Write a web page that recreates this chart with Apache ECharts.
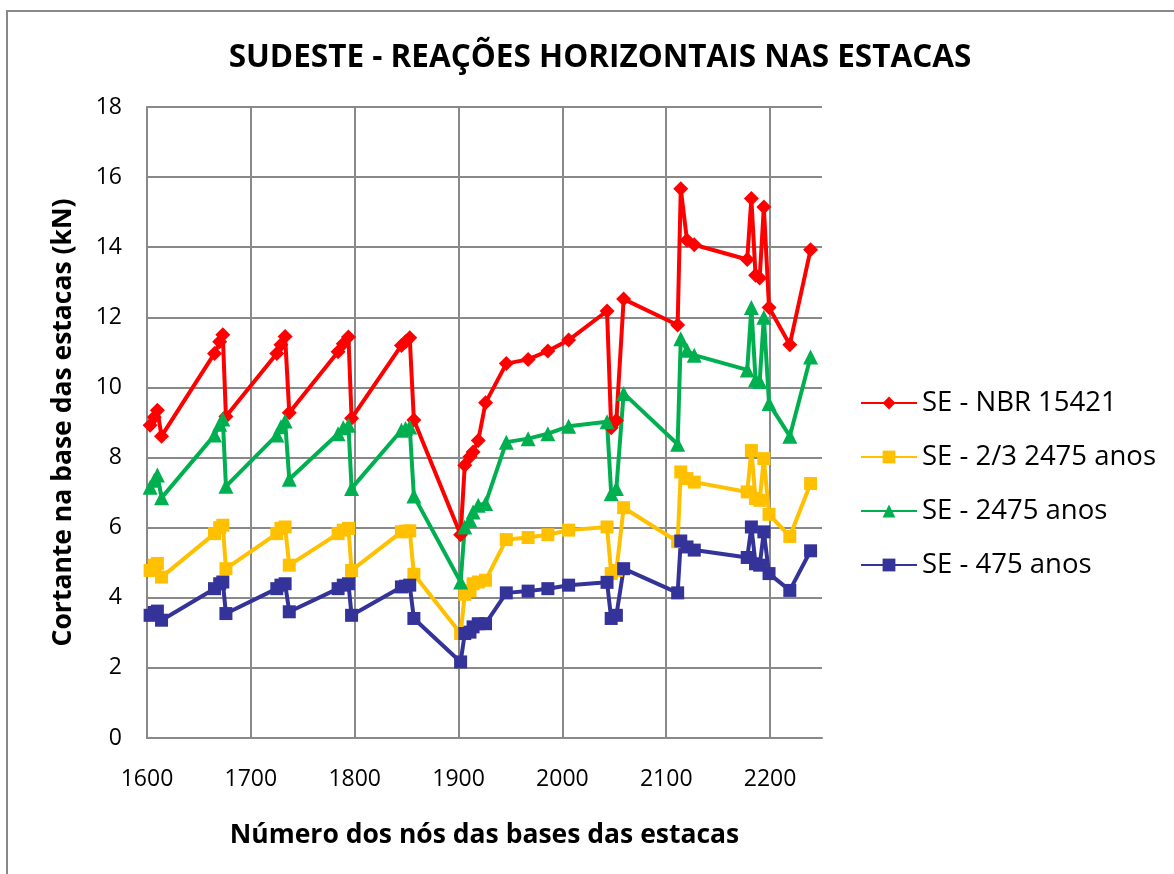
<!DOCTYPE html>
<html>
<head>
<meta charset="utf-8">
<script src="https://cdn.jsdelivr.net/npm/echarts@6/dist/echarts.min.js"></script>
<style>
  html, body { margin: 0; padding: 0; background: #fff; }
  #chart { width: 1174px; height: 874px; }
</style>
</head>
<body>
<div id="chart"></div>
<script>
  // números dos nós (eixo x)
  var nodes = [1603, 1607, 1610, 1614, 1665, 1670, 1673, 1676, 1725, 1729, 1733, 1737,
    1784, 1789, 1794, 1797, 1845, 1849, 1853, 1857, 1902, 1906, 1911, 1914, 1919, 1926,
    1946, 1967, 1986, 2006, 2043, 2047, 2052, 2059, 2111, 2114, 2120, 2127,
    2178, 2182, 2186, 2190, 2194, 2199, 2219, 2239];

  var nbr15421 = [8.92, 9.15, 9.35, 8.61, 10.97, 11.3, 11.5, 9.17, 10.97, 11.22, 11.45, 9.28,
    11.02, 11.25, 11.44, 9.12, 11.2, 11.3, 11.42, 9.07, 5.8, 7.78, 8.02, 8.16, 8.49, 9.56,
    10.68, 10.8, 11.04, 11.35, 12.18, 8.85, 9.06, 12.52, 11.78, 15.67, 14.2, 14.07,
    13.65, 15.39, 13.2, 13.12, 15.15, 12.28, 11.22, 13.93];

  var doisTercos2475 = [4.78, 4.93, 4.98, 4.59, 5.83, 6.0, 6.07, 4.83, 5.83, 5.98, 6.02, 4.93,
    5.83, 5.93, 5.98, 4.78, 5.88, 5.9, 5.91, 4.67, 2.98, 4.1, 4.2, 4.4, 4.45, 4.5,
    5.66, 5.72, 5.8, 5.93, 6.02, 4.69, 4.78, 6.57, 5.6, 7.59, 7.4, 7.3,
    7.02, 8.2, 6.83, 6.78, 7.97, 6.38, 5.75, 7.26];

  var anos2475 = [7.15, 7.35, 7.5, 6.85, 8.64, 8.95, 9.1, 7.18, 8.64, 8.88, 9.04, 7.38,
    8.68, 8.85, 8.92, 7.12, 8.78, 8.83, 8.87, 6.9, 4.45, 6.02, 6.21, 6.45, 6.64, 6.69,
    8.44, 8.54, 8.68, 8.89, 9.02, 6.97, 7.12, 9.83, 8.38, 11.39, 11.06, 10.92,
    10.5, 12.28, 10.22, 10.17, 12.0, 9.54, 8.61, 10.87];

  var anos475 = [3.5, 3.58, 3.62, 3.36, 4.26, 4.4, 4.45, 3.55, 4.26, 4.36, 4.4, 3.6,
    4.26, 4.36, 4.4, 3.5, 4.31, 4.33, 4.36, 3.41, 2.17, 2.98, 3.02, 3.17, 3.26, 3.26,
    4.14, 4.19, 4.26, 4.36, 4.44, 3.41, 3.5, 4.83, 4.14, 5.62, 5.45, 5.36,
    5.15, 6.02, 4.97, 4.93, 5.88, 4.69, 4.21, 5.34];

  var seriesNames = ['SE - NBR 15421', 'SE - 2/3 2475 anos', 'SE - 2475 anos', 'SE - 475 anos'];

  function pairs(values) {
    return nodes.map(function (n, i) {
      return [n, values[i]];
    });
  }

  var font = '"Open Sans", "Noto Sans", sans-serif';
  var gridColor = '#898989';

  var myChart = echarts.init(document.getElementById('chart'));

  function lineSeries(name, values, color, symbol, size) {
    return {
      name: name,
      type: 'line',
      data: pairs(values),
      symbol: symbol,
      symbolSize: size,
      showAllSymbol: true,
      lineStyle: { color: color, width: 4 },
      itemStyle: { color: color },
      emphasis: { disabled: true },
      animation: false
    };
  }

  var option = {
    backgroundColor: '#fff',
    textStyle: { fontFamily: font },
    graphic: [
      {
        type: 'rect',
        z: -1,
        shape: { x: 7, y: 11, width: 1200, height: 900 },
        style: { fill: 'none', stroke: gridColor, lineWidth: 2 }
      }
    ],
    title: {
      text: 'SUDESTE - REAÇÕES HORIZONTAIS NAS ESTACAS',
      left: 595,
      textAlign: 'center',
      top: 37,
      textStyle: { fontFamily: font, fontSize: 31.5, fontWeight: 'bold', color: '#000' }
    },
    legend: {
      orient: 'vertical',
      left: 855,
      top: 384,
      itemWidth: 56,
      itemHeight: 16,
      itemGap: 26,
      data: seriesNames,
      textStyle: { fontFamily: font, fontSize: 27.5, lineHeight: 28, color: '#000' }
    },
    grid: {
      left: 147,
      top: 107,
      width: 675,
      height: 631
    },
    xAxis: {
      type: 'value',
      min: 1600,
      max: 2250,
      interval: 100,
      name: 'Número dos nós das bases das estacas',
      nameLocation: 'middle',
      nameGap: 84,
      nameTextStyle: { fontFamily: font, fontSize: 26.5, fontWeight: 'bold', color: '#000' },
      axisLine: { show: true, lineStyle: { color: gridColor, width: 2 } },
      axisTick: { show: false },
      axisLabel: {
        fontSize: 23, color: '#000', margin: 30, showMaxLabel: false,
        formatter: function (v) { return String(v); }
      },
      splitLine: {
        show: true,
        lineStyle: {
          color: [gridColor, gridColor, gridColor, gridColor, gridColor, gridColor, gridColor, 'rgba(0,0,0,0)'],
          width: 2
        }
      }
    },
    yAxis: {
      type: 'value',
      min: 0,
      max: 18,
      interval: 2,
      name: 'Cortante na base das estacas (kN)',
      nameLocation: 'middle',
      nameGap: 70,
      nameTextStyle: { fontFamily: font, fontSize: 26.5, fontWeight: 'bold', color: '#000' },
      axisLine: { show: true, lineStyle: { color: gridColor, width: 2 } },
      axisTick: { show: false },
      axisLabel: { fontSize: 23, color: '#000', margin: 25 },
      splitLine: { show: true, lineStyle: { color: gridColor, width: 2 } }
    },
    series: [
      lineSeries(seriesNames[0], nbr15421, '#FF0000', 'diamond', 15),
      lineSeries(seriesNames[1], doisTercos2475, '#FFC000', 'rect', 13),
      lineSeries(seriesNames[2], anos2475, '#00B050', 'triangle', 15),
      lineSeries(seriesNames[3], anos475, '#333399', 'rect', 13)
    ]
  };

  option && myChart.setOption(option);
</script>
</body>
</html>
